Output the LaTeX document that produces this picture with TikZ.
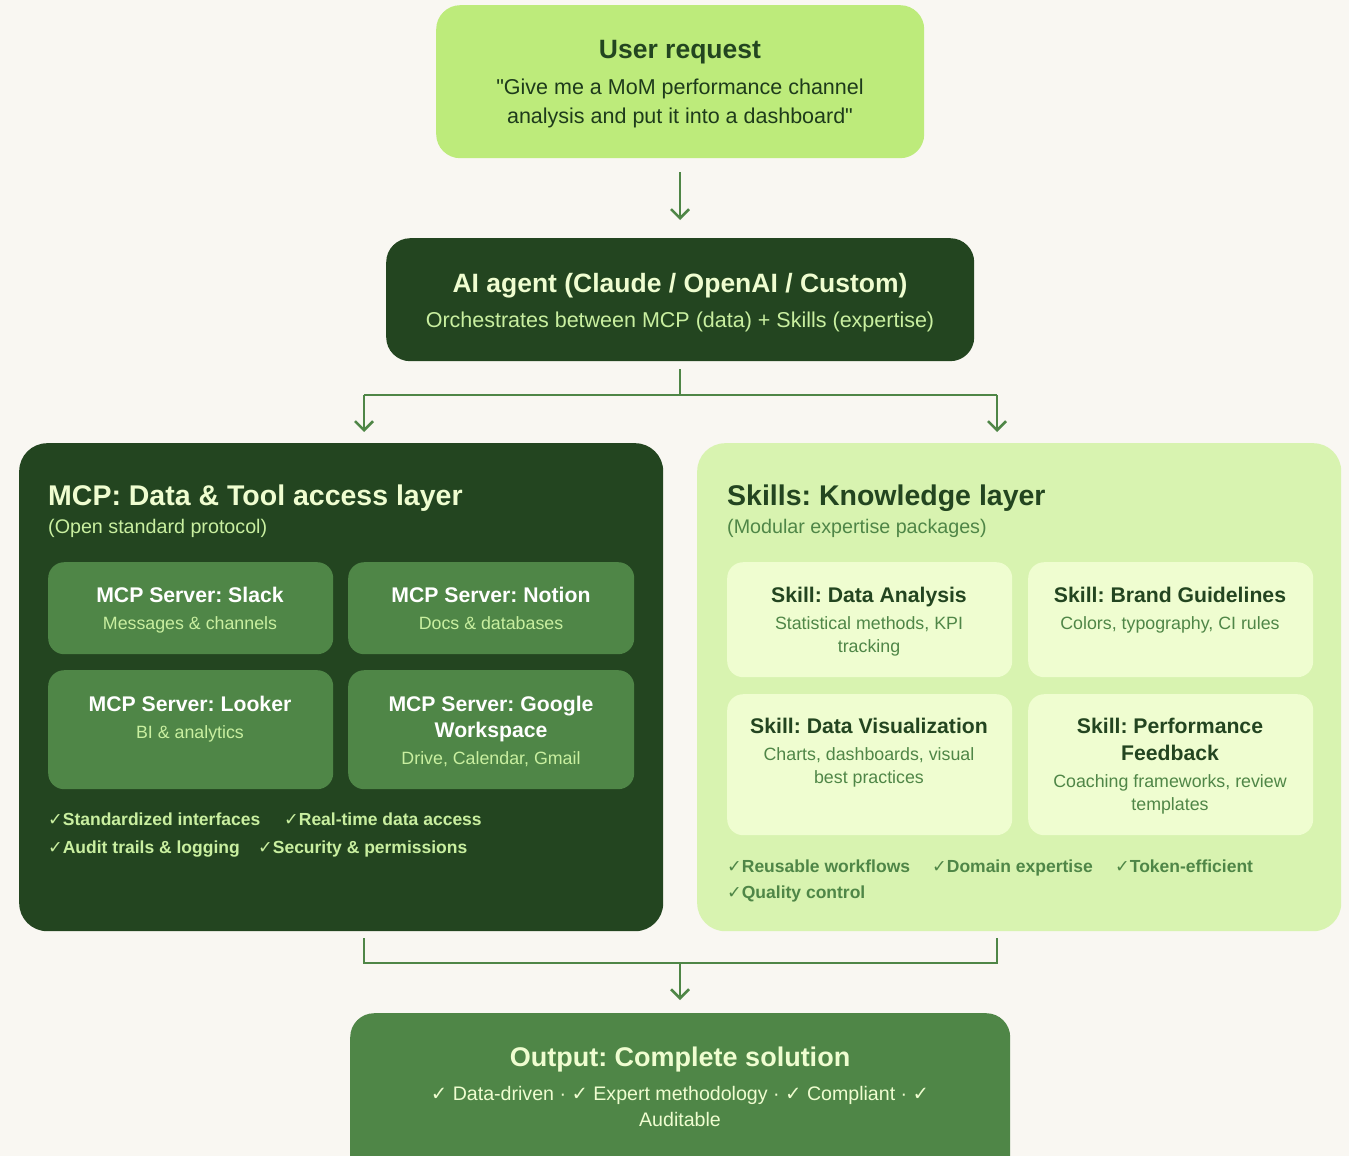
\documentclass[tikz,border=0pt]{standalone}
\usepackage{fontspec}
\setmainfont{Liberation Sans}
\newfontfamily\symf{DejaVu Sans}
\newfontfamily\qf{Liberation Sans}
\usetikzlibrary{arrows.meta,positioning}
\frenchspacing
\definecolor{bg}{HTML}{F9F7F2}
\definecolor{lime}{HTML}{BDEB7B}
\definecolor{dkg}{HTML}{234520}
\definecolor{mdg}{HTML}{4F8647}
\definecolor{ltg}{HTML}{D8F3B0}
\definecolor{crd}{HTML}{EFFDD0}
\definecolor{pale}{HTML}{EFFDD0}
\definecolor{subl}{HTML}{C9EFA0}
\newcommand{\ck}{{\symf\bfseries\char"2713}}
\newcommand{\dq}{{\qf\char"22\relax}}
\tikzset{
  x=1pt,y=-1pt,
  box/.style={draw=none,rounded corners=24pt,anchor=north west,inner sep=0pt},
  panel/.style={draw=none,rounded corners=28pt,anchor=north west,inner sep=0pt},
  card/.style={draw=none,rounded corners=16pt,anchor=north west,inner sep=0pt},
  txt/.style={anchor=base,inner sep=0pt,font=\fontsize{17.8}{20}\selectfont},
  ttl/.style={anchor=base,inner sep=0pt,font=\fontsize{21.2}{24}\selectfont\bfseries},
  ltxt/.style={anchor=base west,inner sep=0pt},
  conn/.style={draw=mdg,line width=2.5pt},
  arr/.style={conn,-{Straight Barb[length=9pt,width=18pt,line width=2.5pt]}},
}
\begin{document}
\begin{tikzpicture}
\fill[bg] (0,0) rectangle (1349,1156);
\useasboundingbox (0,0) rectangle (1349,1156);

% user request
\node[box,fill=lime,minimum width=488pt,minimum height=153pt] (user) at (436,5) {};
\node[anchor=base,inner sep=0pt,text=dkg,font=\fontsize{26.5}{30}\selectfont\bfseries] (usert) at (680,59) {User request};
\node[anchor=base,inner sep=0pt,text=dkg!85!black,font=\fontsize{21.5}{24}\selectfont] (userq1) at (680,94) {\dq Give me a MoM performance channel};
\node[anchor=base,inner sep=0pt,text=dkg!85!black,font=\fontsize{21.5}{24}\selectfont] (userq2) at (680,123) {analysis and put it into a dashboard\dq};

% agent
\node[box,fill=dkg,minimum width=588pt,minimum height=123pt] (agent) at (386,238) {};
\node[anchor=base,inner sep=0pt,text=pale,font=\fontsize{26.5}{30}\selectfont\bfseries] (agentt) at (680,292) {AI agent (Claude / OpenAI / Custom)};
\node[anchor=base,inner sep=0pt,text=subl,font=\fontsize{21.5}{24}\selectfont] (agents) at (680,327) {Orchestrates between MCP (data) + Skills (expertise)};

% MCP panel
\node[panel,fill=dkg,minimum width=644pt,minimum height=488pt] (mcp) at (19,443) {};
\node[ltxt,text=pale,font=\fontsize{28.5}{32}\selectfont\bfseries] (mcpt) at (48,505) {MCP: Data \& Tool access layer};
\node[ltxt,text=subl,font=\fontsize{19.7}{22}\selectfont] (mcps) at (48,533) {(Open standard protocol)};

\node[card,fill=mdg,minimum width=285pt,minimum height=92pt] (slack) at (48,562) {};
\node[card,fill=mdg,minimum width=286pt,minimum height=92pt] (notion) at (348,562) {};
\node[card,fill=mdg,minimum width=285pt,minimum height=119pt] (looker) at (48,670) {};
\node[card,fill=mdg,minimum width=286pt,minimum height=119pt] (gws) at (348,670) {};

\node[ttl,text=white] at (190,602) {MCP Server: Slack};
\node[txt,text=subl] at (190,629) {Messages \& channels};
\node[ttl,text=white] at (491,602) {MCP Server: Notion};
\node[txt,text=subl] at (491,629) {Docs \& databases};
\node[ttl,text=white] at (190,711) {MCP Server: Looker};
\node[txt,text=subl] at (190,738) {BI \& analytics};
\node[ttl,text=white] at (491,711) {MCP Server: Google};
\node[ttl,text=white] at (491,737) {Workspace};
\node[txt,text=subl] at (491,764) {Drive, Calendar, Gmail};

\begin{scope}[every node/.style={ltxt,text=subl,font=\fontsize{17.5}{20}\selectfont\bfseries}]
\node at (48,825) {\ck Standardized interfaces};
\node at (284,825) {\ck Real-time data access};
\node at (48,853) {\ck Audit trails \& logging};
\node at (258,853) {\ck Security \& permissions};
\end{scope}

% Skills panel
\node[panel,fill=ltg,minimum width=644pt,minimum height=488pt] (skills) at (697,443) {};
\node[ltxt,text=dkg,font=\fontsize{28.5}{32}\selectfont\bfseries] (skt) at (727,505) {Skills: Knowledge layer};
\node[ltxt,text=mdg,font=\fontsize{19.7}{22}\selectfont] (sks) at (727,533) {(Modular expertise packages)};

\node[card,fill=crd,minimum width=285pt,minimum height=115pt] (da) at (727,562) {};
\node[card,fill=crd,minimum width=285pt,minimum height=115pt] (bg) at (1028,562) {};
\node[card,fill=crd,minimum width=285pt,minimum height=141pt] (dv) at (727,694) {};
\node[card,fill=crd,minimum width=285pt,minimum height=141pt] (pf) at (1028,694) {};

\node[ttl,text=dkg] at (869,602) {Skill: Data Analysis};
\node[txt,text=mdg] at (869,629) {Statistical methods, KPI};
\node[txt,text=mdg] at (869,652) {tracking};
\node[ttl,text=dkg] at (1170,602) {Skill: Brand Guidelines};
\node[txt,text=mdg] at (1170,629) {Colors, typography, CI rules};
\node[ttl,text=dkg] at (869,733) {Skill: Data Visualization};
\node[txt,text=mdg] at (869,760) {Charts, dashboards, visual};
\node[txt,text=mdg] at (869,783) {best practices};
\node[ttl,text=dkg] at (1170,733) {Skill: Performance};
\node[ttl,text=dkg] at (1170,760) {Feedback};
\node[txt,text=mdg] at (1170,787) {Coaching frameworks, review};
\node[txt,text=mdg] at (1170,810) {templates};

\begin{scope}[every node/.style={ltxt,text=mdg,font=\fontsize{17.5}{20}\selectfont\bfseries}]
\node at (727,872) {\ck Reusable workflows};
\node at (932,872) {\ck Domain expertise};
\node at (1115,872) {\ck Token-efficient};
\node at (727,898) {\ck Quality control};
\end{scope}

% output
\node[box,fill=mdg,minimum width=660pt,minimum height=170pt] (out) at (350,1013) {};
\node[anchor=base,inner sep=0pt,text=pale,font=\fontsize{27}{30}\selectfont\bfseries] at (680,1066) {Output: Complete solution};
\node[anchor=base,inner sep=0pt,text=pale,font=\fontsize{19.6}{22}\selectfont] at (680,1100) {\ck\ Data-driven · \ck\ Expert methodology · \ck\ Compliant · \ck};
\node[anchor=base,inner sep=0pt,text=pale,font=\fontsize{19.6}{22}\selectfont] at (680,1126) {Auditable};

% connectors
\coordinate (a1) at (680,172);
\draw[arr] (a1) -- (680,220);
\coordinate (s0) at (680,369);
\coordinate (sj) at (680,395);
\coordinate (sl) at (364,395);
\coordinate (sr) at (997,395);
\draw[conn] (s0) -- (sj);
\draw[conn] (sl) -- (sr);
\draw[arr] (sl) -- (364,432);
\draw[arr] (sr) -- (997,432);
\coordinate (bl) at (364,938);
\coordinate (br) at (997,938);
\coordinate (bj) at (680,963);
\draw[conn] (bl) -- (364,963) -- (997,963) -- (br);
\draw[arr] (bj) -- (680,1000);
\end{tikzpicture}
\end{document}
